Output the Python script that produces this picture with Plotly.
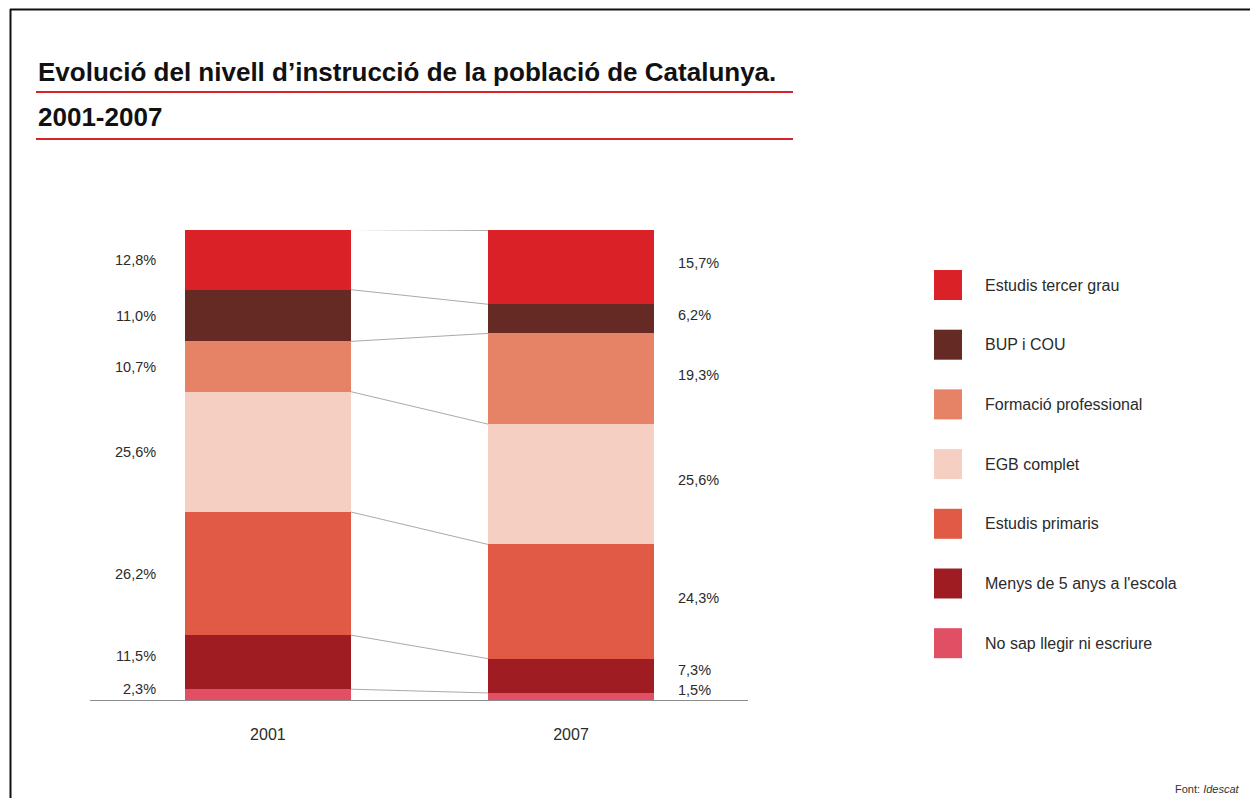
import plotly.graph_objects as go

# --- data -------------------------------------------------------------
years = ["2001", "2007"]

# stacked from the bottom of the bar upwards
levels = [
    "No sap llegir ni escriure",
    "Menys de 5 anys a l'escola",
    "Estudis primaris",
    "EGB complet",
    "Formació professional",
    "BUP i COU",
    "Estudis tercer grau",
]
pct_2001 = [2.3, 11.5, 26.2, 25.6, 10.7, 11.0, 12.8]
pct_2007 = [1.5, 7.3, 24.3, 25.6, 19.3, 6.2, 15.7]

colors = ["#E04F63", "#9E1C22", "#E05A45", "#F5D0C2", "#E68265", "#662A25", "#DA2128"]

# --- layout helpers ----------------------------------------------------
W, H = 1250, 798
FONT = "Liberation Sans Narrow, Arial Narrow, Liberation Sans, sans-serif"
TXT = "#2b2b2b"
RED = "#D9232B"
BAR_W = 0.548


def px(x):
    return x / W


def py(y):
    return 1 - y / H


fig = go.Figure()

for name, a, b, c in zip(levels, pct_2001, pct_2007, colors):
    fig.add_trace(go.Bar(
        x=[0, 1], y=[a, b], name=name, width=BAR_W,
        marker=dict(color=c, line=dict(width=0)),
        showlegend=False, hoverinfo="name+y",
    ))

shapes = []
annotations = []


def cumulative(vals):
    out, s = [0.0], 0.0
    for v in vals:
        s += v
        out.append(s)
    return out


cum_a = cumulative(pct_2001)
cum_b = cumulative(pct_2007)

# grey connector lines joining matching boundaries of the two bars
for ya, yb in zip(cum_a[1:], cum_b[1:]):
    shapes.append(dict(type="line", xref="x", yref="y",
                       x0=BAR_W / 2, x1=1 - BAR_W / 2, y0=ya, y1=yb,
                       line=dict(color="#AAAAAA", width=1)))

# percentage labels beside each segment (the two lowest ones lifted a little)
for i, (a, b) in enumerate(zip(pct_2001, pct_2007)):
    ca = (cum_a[i] + cum_a[i + 1]) / 2
    cb = (cum_b[i] + cum_b[i + 1]) / 2
    nudge_a = 6 if i < 2 else 0
    nudge_b = 6 if i < 2 else 4
    annotations.append(dict(
        xref="x", yref="y", x=-BAR_W / 2, y=ca, xanchor="right", yanchor="middle",
        xshift=-27, yshift=nudge_a, showarrow=False,
        text=f"{a:.1f}%".replace(".", ","), font=dict(family=FONT, size=14.5, color=TXT)))
    annotations.append(dict(
        xref="x", yref="y", x=1 + BAR_W / 2, y=cb, xanchor="left", yanchor="middle",
        xshift=22, yshift=nudge_b, showarrow=False,
        text=f"{b:.1f}%".replace(".", ","), font=dict(family=FONT, size=14.5, color=TXT)))

# title block with red rules
annotations.append(dict(xref="paper", yref="paper", x=px(36), y=py(72),
                        xanchor="left", yanchor="middle", showarrow=False,
                        text="<b>Evolució del nivell d’instrucció de la població de Catalunya.</b>",
                        font=dict(family=FONT, size=26, color="#111111")))
annotations.append(dict(xref="paper", yref="paper", x=px(36), y=py(117),
                        xanchor="left", yanchor="middle", showarrow=False,
                        text="<b>2001-2007</b>",
                        font=dict(family=FONT, size=26, color="#111111")))
for yl in (92, 139):
    shapes.append(dict(type="line", xref="paper", yref="paper",
                       x0=px(36), x1=px(793), y0=py(yl), y1=py(yl),
                       line=dict(color=RED, width=2)))

# frame on the top and left edges
shapes.append(dict(type="line", xref="paper", yref="paper",
                   x0=px(10), x1=1, y0=py(9.5), y1=py(9.5),
                   line=dict(color="#111111", width=2)))
shapes.append(dict(type="line", xref="paper", yref="paper",
                   x0=px(10.5), x1=px(10.5), y0=py(9), y1=0,
                   line=dict(color="#111111", width=2)))

# legend, top entry first
for k, (name, c) in enumerate(zip(levels[::-1], colors[::-1])):
    yc = 285 + k * 59.7
    shapes.append(dict(type="rect", xref="paper", yref="paper",
                       x0=px(934), x1=px(962), y0=py(yc - 15), y1=py(yc + 15),
                       fillcolor=c, line=dict(width=0)))
    annotations.append(dict(xref="paper", yref="paper", x=px(983), y=py(yc),
                            xanchor="left", yanchor="middle", showarrow=False,
                            text=name, font=dict(family=FONT, size=16, color=TXT)))

# source note
annotations.append(dict(xref="paper", yref="paper", x=px(1242), y=py(789),
                        xanchor="right", yanchor="middle", showarrow=False,
                        text="Font: <i>Idescat</i>",
                        font=dict(family=FONT, size=11, color="#333333")))

fig.update_layout(
    width=W, height=H,
    margin=dict(l=0, r=0, t=0, b=0),
    paper_bgcolor="white", plot_bgcolor="white",
    barmode="stack", bargap=0,
    showlegend=False,
    shapes=shapes, annotations=annotations,
    xaxis=dict(domain=[px(90), px(748)], range=[-0.587, 1.584],
               tickmode="array", tickvals=[0, 1], ticktext=years,
               showgrid=False, zeroline=False,
               showline=True, linecolor="#8C8C8C", linewidth=1,
               ticks="outside", ticklen=20, tickcolor="rgba(0,0,0,0)",
               tickfont=dict(family=FONT, size=16, color=TXT), fixedrange=True),
    yaxis=dict(domain=[py(700), py(230)], range=[0, 100], visible=False,
               fixedrange=True),
)

fig.write_html("out.html")
